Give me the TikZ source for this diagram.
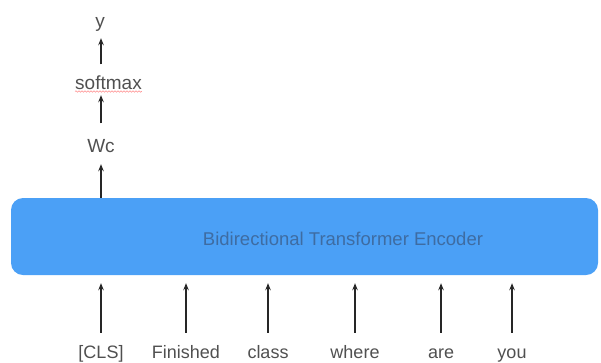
\documentclass[tikz,border=0pt]{standalone}
\usepackage{fontspec}
\setmainfont{Liberation Sans}
\usetikzlibrary{arrows.meta,decorations.pathmorphing}
\definecolor{encfill}{RGB}{75,160,246}
\definecolor{enctext}{RGB}{62,108,162}
\definecolor{labelgray}{RGB}{80,80,80}
\begin{document}
\begin{tikzpicture}[x=1pt,y=-1pt,
  toklabel/.style={font=\fontsize{18}{21}\selectfont, text=labelgray, inner sep=0pt,
    text height=13pt, text depth=4pt, anchor=base},
  headlabel/.style={font=\fontsize{19}{22}\selectfont, text=labelgray, inner sep=0pt,
    text height=13.5pt, text depth=4pt, anchor=base},
  arr/.style={line width=1.2pt, draw=black!85, -{Stealth[length=7pt,width=5.5pt]}},
  encoder/.style={fill=encfill, rounded corners=12pt, minimum width=587pt,
    minimum height=77pt, inner sep=0pt},
  spell/.style={draw=red!75, line width=0.6pt, opacity=0.6,
    decorate, decoration={snake, amplitude=0.7pt, segment length=3pt}}]
\useasboundingbox (0,0) rectangle (601,362);

% encoder block
\node[encoder] (enc) at (304.5,236.5) {};
\node[font=\fontsize{18.5}{22}\selectfont, text=enctext, inner sep=0pt, anchor=base]
  (enctxt) at (343,245) {Bidirectional Transformer Encoder};

% input tokens
\node[toklabel] (t1) at (101,358) {[CLS]};
\node[toklabel] (t2) at (186,358) {Finished};
\node[toklabel] (t3) at (268,358) {class};
\node[toklabel] (t4) at (355,358) {where};
\node[toklabel] (t5) at (441,358) {are};
\node[toklabel] (t6) at (512,358) {you};

\foreach \t in {t1,t2,t3,t4,t5,t6}
  \draw[arr, shorten <=12pt, shorten >=8pt] (\t.north) -- (\t.north |- enc.south);

% classification head
\node[headlabel] (wc) at (101,152) {Wc};
\node[headlabel] (sm) at (108.5,89) {softmax};
\node[headlabel] (y) at (100,27) {y};

\draw[arr, shorten <=0pt, shorten >=8pt] (enc.north -| wc) -- (wc.south);
\draw[arr, shorten <=15pt, shorten >=2pt] (wc.north) -- (wc.north |- sm.south);
\draw[arr, shorten <=11pt, shorten >=7pt] (sm.north -| wc) -- (y.south -| wc);
\draw[spell] ([yshift=-2.5pt]sm.base west) -- ([yshift=-2.5pt]sm.base east);
\end{tikzpicture}
\end{document}
